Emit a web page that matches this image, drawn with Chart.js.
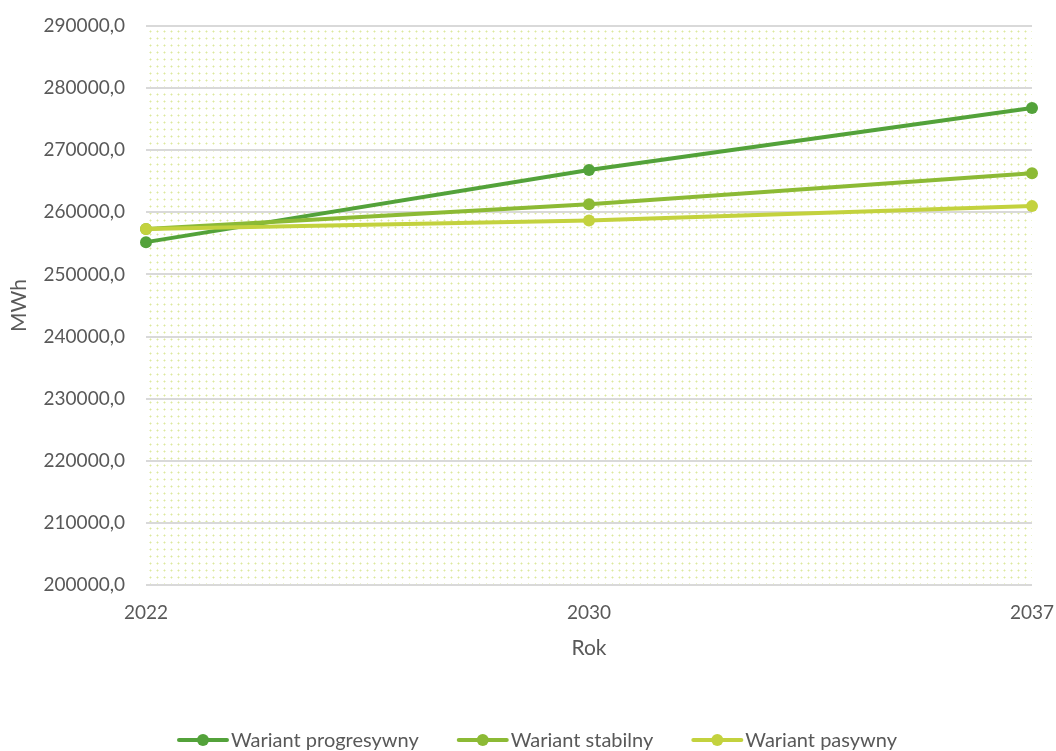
<!DOCTYPE html>
<html>
<head>
<meta charset="utf-8">
<script src="https://cdn.jsdelivr.net/npm/chart.js@4/dist/chart.umd.min.js"></script>
<style>
  html, body { margin: 0; padding: 0; background: #fff; }
  #wrap { width: 1056px; height: 751px; position: relative; }
</style>
</head>
<body>
<div id="wrap"><canvas id="chart"></canvas></div>
<script>
// ── Data ──
const years = ['2022', '2030', '2037'];
const progresywny = [255200, 266800, 276800];
const stabilny = [257300, 261300, 266300];
const pasywny = [257300, 258700, 261000];

const FONT = 'Lato';
const TEXT = '#595959';

// dotted background for the plot area (small plus every 7px)
function dotPattern(ctx) {
  const p = document.createElement('canvas');
  p.width = 7; p.height = 7;
  const c = p.getContext('2d');
  c.fillStyle = '#eef4cf';
  c.fillRect(2, 3, 3, 1);
  c.fillRect(3, 2, 1, 3);
  c.fillStyle = '#dce89c';
  c.fillRect(3, 3, 1, 1);
  return ctx.createPattern(p, 'repeat');
}

const plotBg = {
  id: 'plotBg',
  beforeDraw(chart) {
    const { ctx, chartArea: a } = chart;
    ctx.save();
    ctx.fillStyle = dotPattern(ctx);
    ctx.fillRect(a.left, a.top, a.right - a.left, a.bottom - a.top);
    ctx.restore();
  }
};

// legend: line with a dot in the middle, then label
const lineLegend = {
  id: 'lineLegend',
  afterDraw(chart) {
    const { ctx } = chart;
    const y = 740;
    ctx.save();
    ctx.font = '20px "' + FONT + '"';
    ctx.textBaseline = 'middle';
    const items = chart.data.datasets.map(ds => ({ text: ds.label, color: ds.borderColor }));
    const lineW = 48, gap = 4, spacing = 40;
    const widths = items.map(it => lineW + gap + ctx.measureText(it.text).width);
    const total = widths.reduce((s, w) => s + w, 0) + spacing * (items.length - 1);
    let x = (chart.width - total) / 2 + 10;
    items.forEach((it, i) => {
      ctx.strokeStyle = it.color;
      ctx.lineWidth = 4;
      ctx.lineCap = 'round';
      ctx.beginPath();
      ctx.moveTo(x, y);
      ctx.lineTo(x + lineW, y);
      ctx.stroke();
      ctx.fillStyle = it.color;
      ctx.beginPath();
      ctx.arc(x + lineW / 2, y, 6, 0, Math.PI * 2);
      ctx.fill();
      ctx.fillStyle = TEXT;
      ctx.fillText(it.text, x + lineW + gap, y + 1);
      x += widths[i] + spacing;
    });
    ctx.restore();
  }
};

function series(label, data, color, order) {
  return {
    label, data, order,
    borderColor: color,
    backgroundColor: color,
    borderWidth: 4,
    pointRadius: 6,
    pointHoverRadius: 6,
    pointBackgroundColor: color,
    pointBorderWidth: 0,
    tension: 0
  };
}

new Chart(document.getElementById('chart'), {
  type: 'line',
  data: {
    labels: years,
    datasets: [
      series('Wariant progresywny', progresywny, '#53a23a', 3),
      series('Wariant stabilny', stabilny, '#8cba35', 2),
      series('Wariant pasywny', pasywny, '#c3d23e', 1)
    ]
  },
  options: {
    responsive: true,
    maintainAspectRatio: false,
    animation: false,
    layout: { padding: { top: 26, right: 0, left: 0, bottom: 86 } },
    plugins: {
      legend: { display: false },
      tooltip: { enabled: false }
    },
    scales: {
      x: {
        offset: false,
        afterFit: s => { s.paddingRight = 24; },
        grid: { display: false },
        border: { display: false },
        ticks: { color: TEXT, font: { size: 19, family: FONT }, maxRotation: 0, padding: 8 },
        title: { display: true, text: 'Rok', color: TEXT, font: { size: 21, family: FONT }, padding: { top: 4 } }
      },
      y: {
        min: 200000,
        max: 290000,
        afterFit: s => { s.width = 146; s.paddingTop = 0; s.paddingBottom = 0; },
        ticks: {
          stepSize: 10000,
          color: TEXT,
          font: { size: 19, family: FONT },
          padding: 21,
          callback: v => v.toFixed(1).replace('.', ',')
        },
        grid: { color: '#d9d9d9', lineWidth: 2, drawTicks: false },
        border: { display: false },
        title: { display: true, text: 'MWh', color: TEXT, font: { size: 21, family: FONT }, padding: { top: 7, bottom: 0 } }
      }
    }
  },
  plugins: [plotBg, lineLegend]
});
</script>
</body>
</html>
